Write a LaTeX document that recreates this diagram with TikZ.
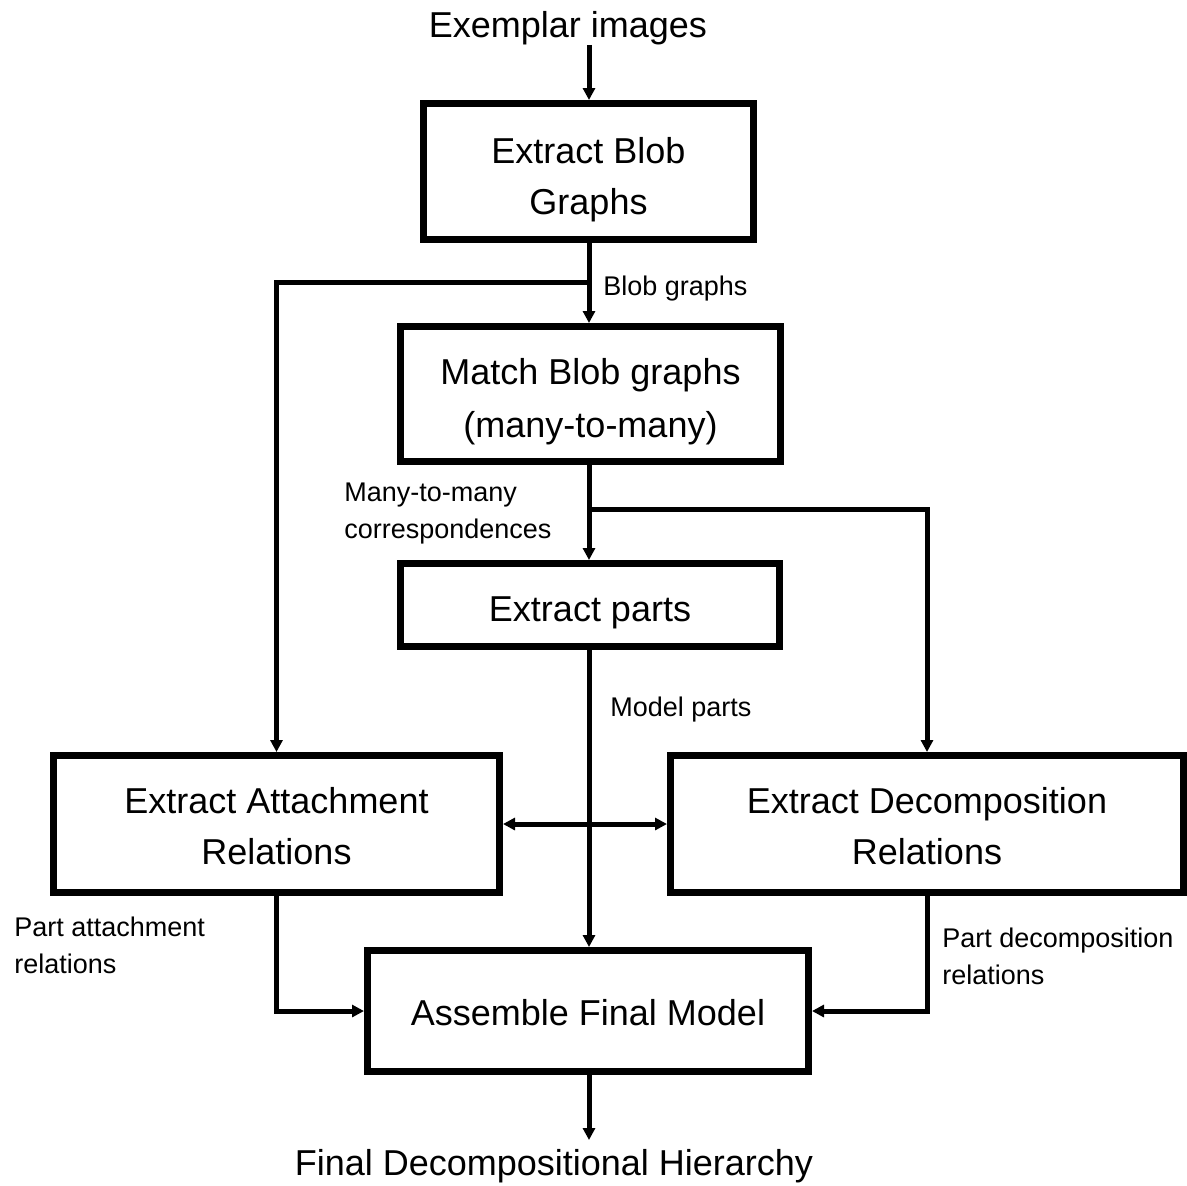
\documentclass[tikz,border=0pt]{standalone}
\usepackage{fontspec}
\setmainfont{Liberation Sans}
\usetikzlibrary{arrows.meta}

% lower a line of box text without changing the box it occupies
\newcommand\dropline[2][4pt]{\raisebox{-#1}[\height][\depth]{#2}}

\tikzset{
  stage/.style={draw, line width=3.5pt, inner sep=0pt, align=center,
                font=\fontsize{18}{25.5}\selectfont},
  caption/.style={inner sep=0pt, font=\fontsize{18}{25.5}\selectfont},
  note/.style={inner sep=0pt, align=left, font=\fontsize{13.5}{18.5}\selectfont},
  flow/.style={line width=2.5pt, -{Triangle[length=6pt,width=6pt]}},
  biflow/.style={line width=2.5pt, {Triangle[length=6pt,width=6pt]}-{Triangle[length=6pt,width=6pt]}},
}

\begin{document}
\begin{tikzpicture}[x=0.5pt, y=-0.5pt]
\useasboundingbox (0,0) rectangle (1187,1185);
\fill[white] (0,0) rectangle (1187,1185);

% vertical spine and split points
\coordinate (spine) at (589,0);
\coordinate (split1) at (589,282);
\coordinate (split2) at (589,509);
\coordinate (outend) at (589,1140);

% input and output captions
\node[caption, anchor=base] (ex) at (568,37) {Exemplar images};
\node[caption, anchor=base] (fin) at (554,1175) {Final Decompositional Hierarchy};

% processing stages
\node[stage, minimum width=165pt, minimum height=68pt] (blob) at (588.5,171.5)
  {\dropline{Extract Blob}\\\dropline{Graphs}};
\node[stage, minimum width=190pt, minimum height=67.5pt,
      font=\fontsize{18}{26.5}\selectfont] (match) at (590.5,394)
  {\dropline{Match Blob graphs}\\\dropline{(many-to-many)}};
\node[stage, minimum width=189.5pt, minimum height=41.5pt] (parts) at (590,605)
  {\dropline[3.75pt]{Extract parts}};
\node[stage, minimum width=223pt, minimum height=68.5pt] (attach) at (276.5,824)
  {\dropline[1pt]{Extract Attachment}\\\dropline[1pt]{Relations}};
\node[stage, minimum width=256.5pt, minimum height=68.5pt] (decomp) at (927,824)
  {\dropline[1pt]{Extract Decomposition}\\\dropline[1pt]{Relations}};
\node[stage, minimum width=220.5pt, minimum height=60.5pt] (assemble) at (588,1011)
  {\dropline[1pt]{Assemble Final Model}};

% edge labels
\node[note, anchor=base west] (lblob) at (603,295) {Blob graphs};
\node[note, anchor=north west] (lcorr) at (344,483) {Many-to-many\\correspondences};
\node[note, anchor=base west] (lparts) at (610,716) {Model parts};
\node[note, anchor=north west] (lattach) at (14,917) {Part attachment\\relations};
\node[note, anchor=north west] (ldecomp) at (942,928) {Part decomposition\\relations};

% connectors
\draw[flow] (ex.south -| spine) -- (blob.north -| spine);
\draw[flow] (blob.south -| spine) -- (match.north -| spine);
\draw[flow] (split1) -| (attach.north);
\draw[flow] (match.south -| spine) -- (parts.north -| spine);
\draw[flow] (split2) -| (decomp.north);
\draw[flow] (parts.south -| spine) -- (assemble.north -| spine);
\draw[biflow] (attach.east) -- (decomp.west);
\draw[flow] (attach.south) |- (assemble.west);
\draw[flow] (decomp.south) |- (assemble.east);
\draw[flow] (assemble.south -| spine) -- (outend);
\end{tikzpicture}
\end{document}
